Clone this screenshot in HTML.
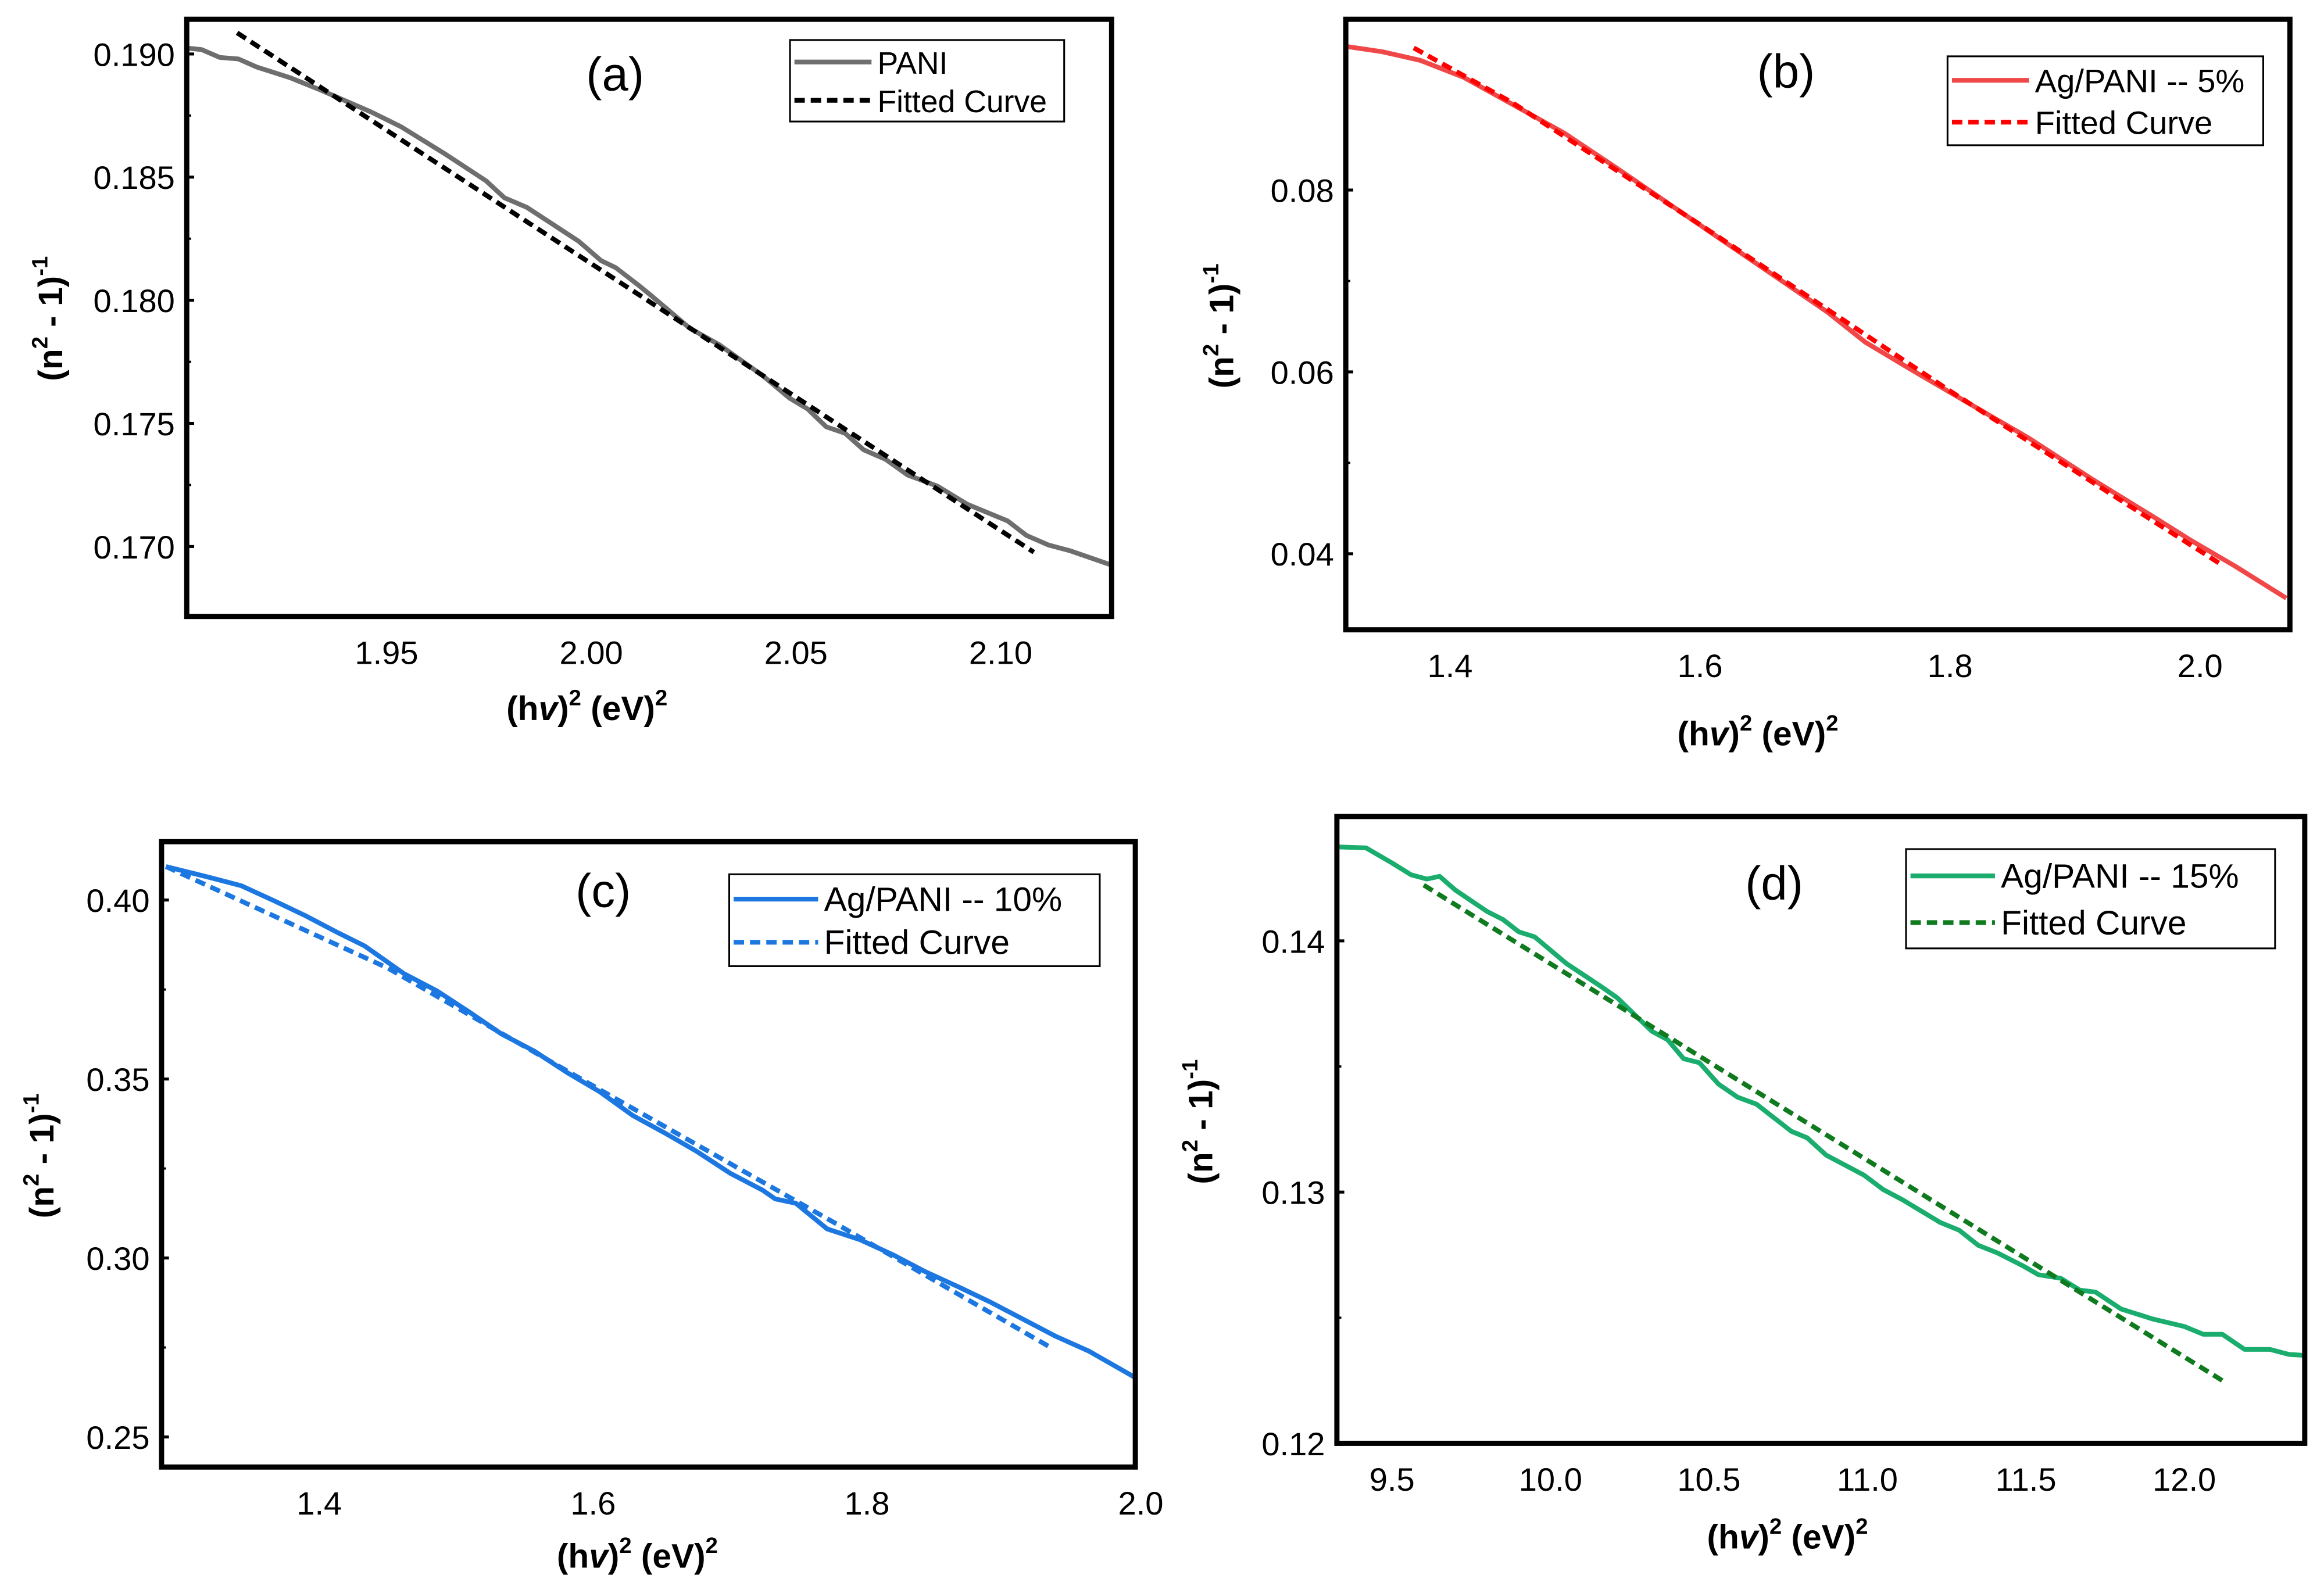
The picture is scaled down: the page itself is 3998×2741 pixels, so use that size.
<!DOCTYPE html>
<html><head><meta charset="utf-8"><style>
html,body{margin:0;padding:0;background:#fff;}
svg{display:block;}
text{font-family:"Liberation Sans Narrow","Liberation Sans",Arial,sans-serif;}
.b{font-weight:bold;font-family:"Liberation Sans",Arial,sans-serif;}
</style></head><body>
<svg id="fig" width="3998" height="2741" viewBox="0 0 1568 1075" xmlns="http://www.w3.org/2000/svg"></svg>
<script>
// Panel (a) PANI
const aX=[1.9012,1.9048,1.9093,1.9138,1.9183,1.9264,1.9337,1.9463,1.9536,1.9644,1.9743,1.9788,1.9843,1.9933,1.9969,2.0024,2.006,2.0114,2.015,2.024,2.0313,2.0421,2.0484,2.0529,2.0574,2.062,2.0665,2.0719,2.0773,2.0846,2.0918,2.1017,2.1063,2.1117,2.1171,2.127];
const aY=[0.19024,0.19018,0.18986,0.18980,0.18947,0.18904,0.18855,0.18764,0.18704,0.18593,0.18485,0.18416,0.18377,0.18279,0.18240,0.18161,0.18132,0.18063,0.18014,0.17887,0.17819,0.17691,0.17603,0.17558,0.17486,0.17460,0.17393,0.17354,0.17290,0.17245,0.17172,0.17104,0.17045,0.17006,0.16982,0.16925];
const aFitX=[1.9135,2.1081];
const aFitY=[0.19086,0.16977];
const aXTicks=[1.95,2.00,2.05,2.10];
const aXLabels=["1.95","2.00","2.05","2.10"];
const aYTicks=[0.170,0.175,0.180,0.185,0.190];
const aYLabels=["0.170","0.175","0.180","0.185","0.190"];
// Panel (b) Ag/PANI 5%
const bX=[1.3166,1.3457,1.376,1.411,1.451,1.491,1.532,1.577,1.622,1.662,1.702,1.732,1.772,1.813,1.863,1.913,1.963,1.993,2.028,2.069];
const bY=[0.0958,0.09521,0.09427,0.09239,0.08934,0.08629,0.08254,0.07831,0.07408,0.07033,0.06657,0.06329,0.0600,0.05671,0.05272,0.04826,0.04404,0.04145,0.03864,0.03512];
const bFitX=[1.371,1.45,1.6,1.8,2.019];
const bFitY=[0.09563,0.0896,0.0762,0.0579,0.03864];
const bXTicks=[1.4,1.6,1.8,2.0];
const bXLabels=["1.4","1.6","1.8","2.0"];
const bYTicks=[0.04,0.06,0.08];
const bYLabels=["0.04","0.06","0.08"];
// Panel (c) Ag/PANI 10%
const cX=[1.288,1.319,1.343,1.367,1.390,1.414,1.433,1.462,1.486,1.510,1.533,1.557,1.581,1.605,1.629,1.652,1.676,1.700,1.724,1.733,1.748,1.771,1.795,1.819,1.843,1.867,1.890,1.914,1.938,1.962,1.995];
const cY=[0.40935,0.4064,0.4040,0.3998,0.3956,0.3908,0.3872,0.3794,0.3746,0.3686,0.3626,0.3578,0.3518,0.3464,0.3398,0.3350,0.3297,0.3237,0.3189,0.3165,0.3153,0.3081,0.3051,0.3009,0.2961,0.2919,0.2877,0.2829,0.2781,0.2740,0.2668];
const cFitX=[1.288,1.45,1.605,1.776,1.936];
const cFitY=[0.40935,0.3810,0.3470,0.3099,0.2746];
const cXTicks=[1.4,1.6,1.8,2.0];
const cXLabels=["1.4","1.6","1.8","2.0"];
const cYTicks=[0.25,0.30,0.35,0.40];
const cYLabels=["0.25","0.30","0.35","0.40"];
// Panel (d) Ag/PANI 15%
const dX=[9.326,9.418,9.5,9.56,9.61,9.65,9.70,9.80,9.85,9.90,9.95,10.05,10.16,10.21,10.32,10.37,10.42,10.47,10.53,10.59,10.65,10.76,10.81,10.87,10.99,11.05,11.11,11.23,11.29,11.35,11.41,11.49,11.54,11.61,11.67,11.72,11.80,11.90,12.0,12.06,12.12,12.19,12.27,12.33,12.38];
const dY=[0.14374,0.1437,0.1431,0.14263,0.14246,0.14257,0.14202,0.14117,0.14085,0.14036,0.14016,0.1391,0.13818,0.13774,0.1364,0.13606,0.13531,0.13515,0.1343,0.13378,0.1335,0.13242,0.13216,0.13147,0.13067,0.1301,0.1297,0.12879,0.12848,0.12788,0.12758,0.12707,0.12671,0.12657,0.1261,0.12602,0.12535,0.12495,0.12465,0.12434,0.12434,0.12374,0.12374,0.12354,0.1235];
const dFitX=[9.60,12.13];
const dFitY=[0.14222,0.12242];
const dXTicks=[9.5,10.0,10.5,11.0,11.5,12.0];
const dXLabels=["9.5","10.0","10.5","11.0","11.5","12.0"];
const dYTicks=[0.12,0.13,0.14];
const dYLabels=["0.12","0.13","0.14"];

const NS="http://www.w3.org/2000/svg";
const svg=document.getElementById('fig');
function el(tag,attrs,parent){const e=document.createElementNS(NS,tag);for(const k in attrs)e.setAttribute(k,attrs[k]);(parent||svg).appendChild(e);return e;}

function panel(o){
  const g=el('g',{});
  
  
  const sx=v=>o.L+(v-o.x0)/(o.x1-o.x0)*(o.R-o.L);
  const sy=v=>o.B-(v-o.y0)/(o.y1-o.y0)*(o.B-o.T);
  const cp=el('clipPath',{id:'clip'+o.id},g);
  el('rect',{x:o.L,y:o.T,width:o.R-o.L,height:o.B-o.T},cp);
  const pts=o.xs.map((x,i)=>sx(x).toFixed(2)+','+sy(o.ys[i]).toFixed(2)).join(' ');
  const dl=el('polyline',{points:pts,fill:'none',stroke:o.color,'stroke-width':3.2,'stroke-linejoin':'round','clip-path':'url(#clip'+o.id+')'},g);
  
  
  const fpts=o.fx.map((x,i)=>sx(x).toFixed(2)+','+sy(o.fy[i]).toFixed(2)).join(' ');
  const fl=el('polyline',{points:fpts,fill:'none',stroke:o.fitColor,'stroke-width':3.2,'stroke-dasharray':'7,4','clip-path':'url(#clip'+o.id+')'},g);
  
  
  const fr=el('rect',{x:o.L,y:o.T,width:o.R-o.L,height:o.B-o.T,fill:'none',stroke:'#000','stroke-width':3.5},g);
  
  
  o.yt.forEach((v,i)=>{
    const y=sy(v);
    el('line',{x1:o.L,x2:o.L+5,y1:y,y2:y,stroke:'#000','stroke-width':2},g);
    if(i<o.yt.length-1){const ym=sy((v+o.yt[i+1])/2);el('line',{x1:o.L,x2:o.L+3,y1:ym,y2:ym,stroke:'#000','stroke-width':1.5},g);}
    const t=el('text',{x:o.L-8,y:y+8,'text-anchor':'end','font-size':22,fill:'#000'},g);
    t.textContent=o.yl[i];
    
    
  });
  o.xt.forEach((v,i)=>{
    const x=sx(v);
    const t=el('text',{x:x,y:o.B+32,'text-anchor':'middle','font-size':22,fill:'#000'},g);
    t.textContent=o.xl[i];
    
    
  });
  const yt=el('text',{class:'b','font-size':23,'text-anchor':'middle',transform:'translate('+o.ytx+','+o.yty+') rotate(-90)'},g);
  yt.innerHTML='(n<tspan dy="-10" font-size="15">2</tspan><tspan dy="10"> - 1)</tspan><tspan dy="-10" font-size="15">-1</tspan>';
  
  
  const xt=el('text',{class:'b','font-size':23,'text-anchor':'middle',x:o.xtx,y:o.xty},g);
  xt.innerHTML='(h<tspan font-style="italic">v</tspan>)<tspan dy="-10" font-size="15">2</tspan><tspan dy="10"> (eV)</tspan><tspan dy="-10" font-size="15">2</tspan>';
  
  
  const pl=el('text',{x:o.plx,y:o.ply,'font-size':32,'text-anchor':'middle',fill:'#000'},g);
  pl.textContent='('+o.id+')';
  
  
  const lg=el('g',{},g);
  
  
  const [lx,ly,lw,lh]=o.leg;
  el('rect',{x:lx,y:ly,width:lw,height:lh,fill:'#fff',stroke:'#000','stroke-width':1.2},lg);
  const r1=ly+lh*0.27, r2=ly+lh*0.74;
  el('line',{x1:lx+3,x2:lx+o.sw,y1:r1,y2:r1,stroke:o.color,'stroke-width':3.2},lg);
  el('line',{x1:lx+3,x2:lx+o.sw,y1:r2,y2:r2,stroke:o.fitColor,'stroke-width':3.2,'stroke-dasharray':'7,4'},lg);
  const t1=el('text',{x:lx+o.sw+4,y:r1+8,'font-size':o.lfs,fill:'#000'},lg);t1.textContent=o.name;
  
  
  const t2=el('text',{x:lx+o.sw+4,y:r2+8,'font-size':o.lfs,fill:'#000'},lg);t2.textContent='Fitted Curve';
  
  
}

panel({id:'a',L:126,R:750,T:13,B:416,x0:1.9012,x1:2.1271,y0:0.16716,y1:0.19141,xs:aX,ys:aY,fx:aFitX,fy:aFitY,xt:aXTicks,xl:aXLabels,yt:aYTicks,yl:aYLabels,color:'#6e6e6e',fitColor:'#000',name:'PANI',leg:[533,27,185,55],sw:55,lfs:21,plx:415,ply:61,ytx:42,yty:215,xtx:396,xty:486});
panel({id:'b',L:908,R:1545,T:13,B:425,x0:1.3166,x1:2.0719,y0:0.03164,y1:0.09878,xs:bX,ys:bY,fx:bFitX,fy:bFitY,xt:bXTicks,xl:bXLabels,yt:bYTicks,yl:bYLabels,color:'#f04848',fitColor:'#f00',name:'Ag/PANI -- 5%',leg:[1314,38,213,60],sw:55,lfs:22,plx:1205,ply:59,ytx:832,yty:220,xtx:1186,xty:503});
panel({id:'c',L:109,R:766,T:568,B:990,x0:1.2848,x1:1.996,y0:0.2416,y1:0.4163,xs:cX,ys:cY,fx:cFitX,fy:cFitY,xt:cXTicks,xl:cXLabels,yt:cYTicks,yl:cYLabels,color:'#1c78e0',fitColor:'#1c78e0',name:'Ag/PANI -- 10%',leg:[492,590,250,62],sw:60,lfs:23,plx:407,ply:612,ytx:36,yty:780,xtx:430,xty:1058});
panel({id:'d',L:902,R:1555,T:551,B:974,x0:9.326,x1:12.38,y0:0.12,y1:0.14495,xs:dX,ys:dY,fx:dFitX,fy:dFitY,xt:dXTicks,xl:dXLabels,yt:dYTicks,yl:dYLabels,color:'#1aad6e',fitColor:'#0f7a1e',name:'Ag/PANI -- 15%',leg:[1286,573,249,67],sw:60,lfs:23,plx:1197,ply:607,ytx:818,yty:757,xtx:1206,xty:1045});
</script>
</body></html>
